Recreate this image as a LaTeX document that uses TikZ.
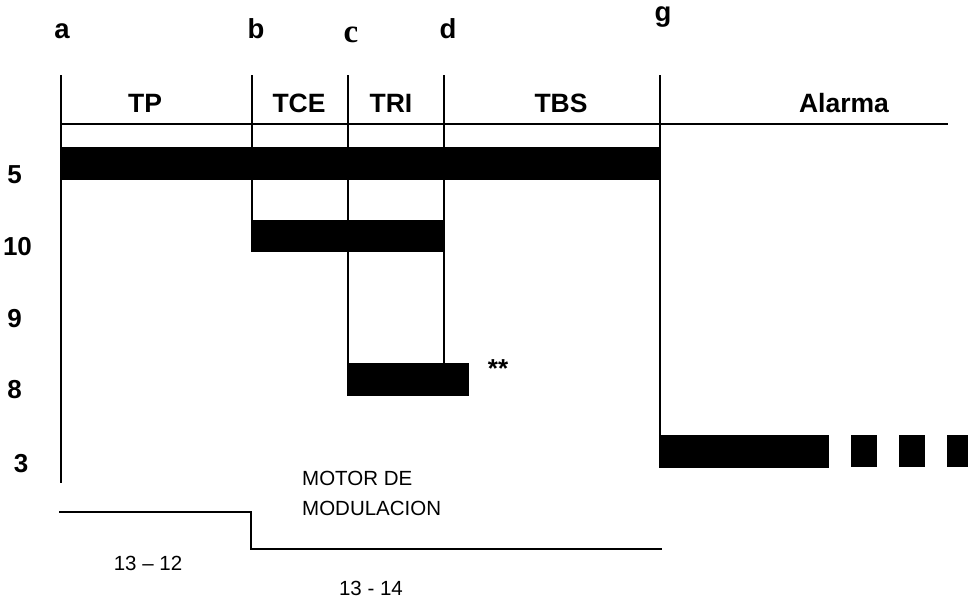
\documentclass[tikz,border=0pt]{standalone}
\usepackage{fontspec}
\setmainfont{Liberation Sans}
\newfontfamily\serifbold{Liberation Serif}
\begin{document}
\begin{tikzpicture}[x=1pt,y=-1pt,
  line/.style={line width=1.8pt},
  bar/.style={fill=black,draw=none},
  hdr/.style={font=\fontsize{26.5}{30}\selectfont\bfseries,anchor=base,inner sep=0pt},
  lett/.style={font=\fontsize{27.5}{30}\selectfont\bfseries,anchor=base,inner sep=0pt},
  num/.style={font=\fontsize{26}{28}\selectfont\bfseries,anchor=base,inner sep=0pt},
  txt/.style={font=\fontsize{20.5}{24}\selectfont,anchor=base,inner sep=0pt}]
\useasboundingbox (0,0) rectangle (968,610);
% letters
\node[lett] (la) at (62,39) {a};
\node[lett] (lb) at (256,39) {b};
\node[lett,font=\fontsize{33}{36}\selectfont\serifbold\bfseries] (lc) at (351,43) {c};
\node[lett] (ld) at (448,39) {d};
\node[lett] (lg) at (663,22) {g};
% header labels
\node[hdr] (tp) at (145,112) {TP};
\node[hdr] (tce) at (299,112) {TCE};
\node[hdr] (tri) at (391,112) {TRI};
\node[hdr] (tbs) at (561,112) {TBS};
\node[hdr] (alarma) at (844,112) {Alarma};
% left numbers
\node[num] (n5) at (14.5,183) {5};
\node[num] (n10) at (17.5,255) {10};
\node[num] (n9) at (14.5,327) {9};
\node[num] (n8) at (14.5,398) {8};
\node[num] (n3) at (21,472) {3};
% header line
\draw[line] (61,124) -- (948,124);
% vertical lines
\draw[line] (61,75) -- (61,483);
\draw[line] (252,75) -- (252,220);
\draw[line] (348,75) -- (348,363);
\draw[line] (444,75) -- (444,363);
\draw[line] (660,75) -- (660,435);
% bars
\fill[bar] (60,147) rectangle (661,180);
\fill[bar] (251,220) rectangle (445,252);
\fill[bar] (347,363) rectangle (469,396);
\fill[bar] (659,435) rectangle (829,468);
\fill[bar] (851,435) rectangle (877,467);
\fill[bar] (899,435) rectangle (925,467);
\fill[bar] (947,435) rectangle (968,467);
\node[num,font=\fontsize{26}{30}\selectfont\bfseries] (ast) at (498,377) {**};
% motor
\node[txt,anchor=base west] (m1) at (302,485) {MOTOR DE};
\node[txt,anchor=base west] (m2) at (302,515) {MODULACION};
\draw[line] (59,512) -- (251,512) -- (251,549) -- (662,549);
\node[txt] (r1) at (148,570) {13 -- 12};
\node[txt] (r2) at (371,595) {13 - 14};
\end{tikzpicture}
\end{document}
